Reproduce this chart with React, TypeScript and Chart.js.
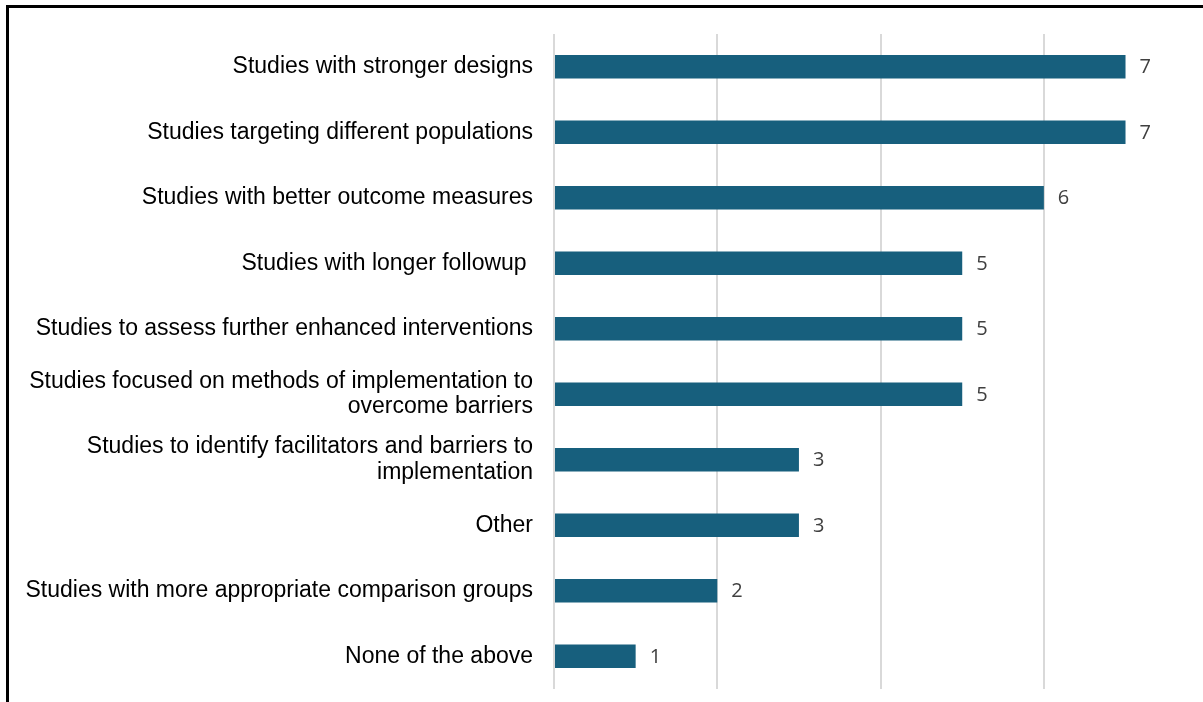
import React, { useEffect, useRef } from "react";
import { Chart, registerables } from "chart.js";

Chart.register(...registerables);

const categories: (string | string[])[] = [
  "Studies with stronger designs",
  "Studies targeting different populations",
  "Studies with better outcome measures",
  "Studies with longer followup ",
  "Studies to assess further enhanced interventions",
  ["Studies focused on methods of implementation to", "overcome barriers"],
  ["Studies to identify facilitators and barriers to", "implementation"],
  "Other",
  "Studies with more appropriate comparison groups",
  "None of the above",
];
const values: number[] = [7, 7, 6, 5, 5, 5, 3, 3, 2, 1];

const BAR_COLOR = "#175F7D";

const valueLabels = {
  id: "valueLabels",
  afterDatasetsDraw(chart: any) {
    const ctx = chart.ctx;
    const meta = chart.getDatasetMeta(0);
    ctx.save();
    ctx.font = '20px "Open Sans"';
    ctx.fillStyle = "#404040";
    ctx.textAlign = "left";
    ctx.textBaseline = "middle";
    meta.data.forEach((bar: any, i: number) => {
      ctx.fillText(String(values[i]), bar.x + 14, bar.y + 1);
    });
    ctx.restore();
  },
};

const frame = {
  id: "frame",
  afterDraw(chart: any) {
    const ctx = chart.ctx;
    ctx.save();
    ctx.fillStyle = "#000000";
    ctx.fillRect(6, 5, 3, chart.height - 5);
    ctx.fillRect(6, 5, chart.width - 6, 3);
    ctx.restore();
  },
};

export default function App() {
  const ref = useRef<HTMLCanvasElement>(null);
  useEffect(() => {
    if (!ref.current) return;
    const chart = new Chart(ref.current, {
      type: "bar",
      data: {
        labels: categories,
        datasets: [
          {
            data: values,
            backgroundColor: BAR_COLOR,
            borderWidth: 0,
            categoryPercentage: 1,
            barPercentage: 0.36,
          },
        ],
      },
      options: {
        indexAxis: "y",
        animation: false,
        responsive: true,
        maintainAspectRatio: false,
        layout: { padding: { top: 34, bottom: 13, left: 0, right: 4 } },
        plugins: { legend: { display: false }, tooltip: { enabled: false } },
        scales: {
          x: {
            min: 0,
            max: 7.9,
            ticks: { display: false, stepSize: 2, includeBounds: false },
            grid: { color: "#D9D9D9", lineWidth: 2, drawTicks: false },
            border: { display: false },
            afterFit: (scale: any) => {
              scale.height = 0;
              scale.paddingLeft = 0;
              scale.paddingRight = 0;
            },
          },
          y: {
            ticks: {
              color: "#000000",
              font: { family: '"Liberation Sans", Arial, sans-serif', size: 23, lineHeight: 1.1 },
              padding: 21,
              autoSkip: false,
            },
            grid: { display: false, drawTicks: false },
            border: { display: false },
            afterFit: (scale: any) => {
              scale.width = 554;
              scale.paddingTop = 0;
              scale.paddingBottom = 0;
            },
          },
        },
      },
      plugins: [valueLabels, frame],
    });
    return () => chart.destroy();
  }, []);
  return (
    <div style={{ position: "absolute", left: 0, top: 0, width: 1203, height: 702, background: "#fff" }}>
      <canvas ref={ref} />
    </div>
  );
}
